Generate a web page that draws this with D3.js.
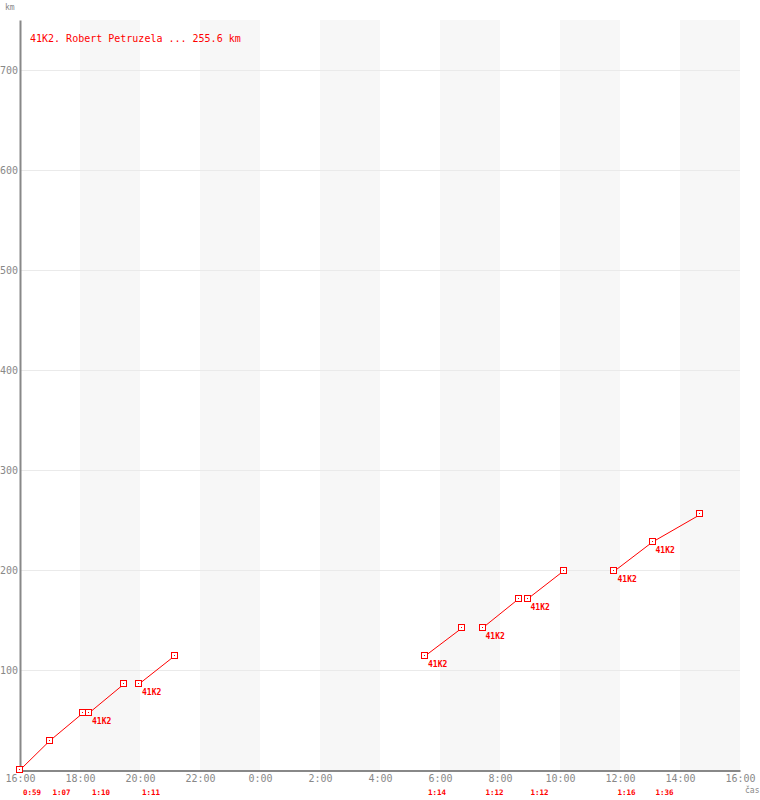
<!DOCTYPE html>
<html>
<head>
<meta charset="utf-8">
<script src="https://cdn.jsdelivr.net/npm/d3@7"></script>
<style>
  body { margin: 0; background: #fff; }
  text { font-family: "DejaVu Sans Mono", monospace; }
</style>
</head>
<body>
<div id="vis"></div>
<script>
// lap data (one entry per lap)
const lapStart = ["16:00", "16:59", "18:18", "19:58", "05:30", "07:25", "08:55", "11:49", "13:05"];
const lapTime = ["0:59", "1:07", "1:10", "1:11", "1:14", "1:12", "1:12", "1:16", "1:36"];
const kmFrom = [0, 29, 57, 86, 114, 142, 171, 199, 228];
const kmTo = [29, 57, 86, 114, 142, 171, 199, 228, 255.6];
const lapTag = ["", "", "41K2", "41K2", "41K2", "41K2", "41K2", "41K2", "41K2"];

const title = "41K2. Robert Petruzela ... 255.6 km";
const yTicks = [100, 200, 300, 400, 500, 600, 700];

////////////////////////////////////////
////////////// Setup ///////////////////
////////////////////////////////////////

const width = 760, height = 800;
const red = "#ff0000", grey = "#888";

const svg = d3.select("#vis").append("svg")
  .attr("width", width)
  .attr("height", height);

const t0 = new Date(2000, 0, 1, 16, 0);
const t1 = new Date(2000, 0, 2, 16, 0);

const x = d3.scaleTime().domain([t0, t1]).range([20, 740]);
const y = d3.scaleLinear().domain([0, 750]).range([770, 20]);

// "HH:MM" -> Date (times before 16:00 belong to next day)
function toDate(s) {
  const [h, m] = s.split(":").map(Number);
  return new Date(2000, 0, h < 16 ? 2 : 1, h, m);
}
function addDur(d, s) {
  const [h, m] = s.split(":").map(Number);
  return new Date(d.getTime() + (h * 60 + m) * 60000);
}

const laps = lapStart.map((s, i) => {
  const a = toDate(s);
  return { a: a, b: addDur(a, lapTime[i]), k0: kmFrom[i], k1: kmTo[i], dur: lapTime[i], tag: lapTag[i] };
});

////////////////////////////////////////
////////////// Background //////////////
////////////////////////////////////////

const hours = d3.timeHour.every(2).range(t0, t1);
const bands = hours.filter((d, i) => i % 2 === 1);

svg.append("g").selectAll("rect")
  .data(bands)
  .join("rect")
  .attr("x", d => x(d))
  .attr("y", y(750))
  .attr("width", d => x(d3.timeHour.offset(d, 2)) - x(d))
  .attr("height", y(0) - y(750))
  .attr("fill", "#f7f7f7");

svg.append("g").selectAll("line")
  .data(yTicks)
  .join("line")
  .attr("x1", x(t0))
  .attr("x2", x(t1))
  .attr("y1", d => y(d) + 0.5)
  .attr("y2", d => y(d) + 0.5)
  .attr("stroke", "#eaeaea");

////////////////////////////////////////
////////////// Axes ////////////////////
////////////////////////////////////////

const xAxis = d3.axisBottom(x)
  .tickValues(hours.concat([t1]))
  .tickFormat(d3.timeFormat("%-H:%M"))
  .tickSize(0)
  .tickPadding(4);

const gx = svg.append("g")
  .attr("transform", `translate(0,${y(0) + 0.5})`)
  .call(xAxis);
gx.select(".domain").attr("stroke", grey).attr("stroke-width", 2);
gx.selectAll("text").attr("fill", grey).attr("font-size", 10)
  .attr("font-family", "DejaVu Sans Mono");

const yAxis = d3.axisLeft(y)
  .tickValues(yTicks)
  .tickSize(0)
  .tickPadding(2);

const gy = svg.append("g")
  .attr("transform", `translate(${x(t0)},0)`)
  .call(yAxis);
gy.select(".domain").attr("stroke", grey).attr("stroke-width", 2);
gy.selectAll("text").attr("fill", grey).attr("font-size", 10)
  .attr("font-family", "DejaVu Sans Mono");

svg.append("text")
  .attr("x", 5).attr("y", 10)
  .attr("font-size", 8).attr("fill", grey)
  .text("km");

svg.append("text")
  .attr("x", 745).attr("y", 793)
  .attr("font-size", 8).attr("fill", grey)
  .text("čas");

svg.append("text")
  .attr("x", 30).attr("y", 42)
  .attr("font-size", 10).attr("fill", red)
  .text(title);

////////////////////////////////////////
////////////// Laps ////////////////////
////////////////////////////////////////

const g = svg.append("g");

g.selectAll(".lap")
  .data(laps)
  .join("line")
  .attr("class", "lap")
  .attr("x1", d => x(d.a)).attr("y1", d => y(d.k0))
  .attr("x2", d => x(d.b)).attr("y2", d => y(d.k1))
  .attr("stroke", red).attr("stroke-width", 1);

const pts = laps.flatMap(d => [{ t: d.a, k: d.k0 }, { t: d.b, k: d.k1 }]);

g.selectAll(".pt")
  .data(pts)
  .join("rect")
  .attr("class", "pt")
  .attr("x", d => Math.round(x(d.t)) - 3.5)
  .attr("y", d => Math.round(y(d.k)) - 3.5)
  .attr("width", 6).attr("height", 6)
  .attr("fill", "#fff")
  .attr("stroke", red).attr("stroke-width", 1);

g.selectAll(".dot")
  .data(pts)
  .join("rect")
  .attr("class", "dot")
  .attr("x", d => Math.round(x(d.t)) - 1)
  .attr("y", d => Math.round(y(d.k)) - 1)
  .attr("width", 1).attr("height", 1)
  .attr("fill", red);

g.selectAll(".tag")
  .data(laps.filter(d => d.tag))
  .join("text")
  .attr("class", "tag")
  .attr("x", d => x(d.a) + 3)
  .attr("y", d => y(d.k0) + 11)
  .attr("font-size", 8).attr("font-weight", "bold")
  .attr("fill", red)
  .text(d => d.tag);

g.selectAll(".dur")
  .data(laps)
  .join("text")
  .attr("class", "dur")
  .attr("x", d => x(d.a) + 3)
  .attr("y", 795)
  .attr("font-size", 7.5).attr("font-weight", "bold")
  .attr("fill", red)
  .text(d => d.dur);
</script>
</body>
</html>
